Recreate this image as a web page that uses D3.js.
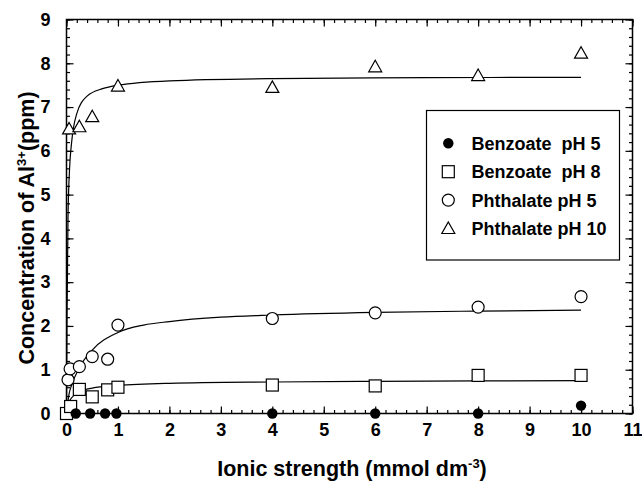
<!DOCTYPE html>
<html>
<head>
<meta charset="utf-8">
<script src="https://cdn.jsdelivr.net/npm/d3@7/dist/d3.min.js"></script>
<style>
  html, body { margin: 0; padding: 0; background: #fff; }
  svg { display: block; }
  text { font-family: "Liberation Sans", Arial, Helvetica, sans-serif; font-weight: bold; fill: #000; }
</style>
</head>
<body>
<svg id="chart" width="642" height="481"></svg>
<script>
// Al3+ concentration vs ionic strength
const benzoate5X = [0.18, 0.46, 0.75, 0.97, 4, 6, 8, 10];
const benzoate5Y = [0, 0, 0, 0, 0, 0, 0, 0.18];

const benzoate8X = [0, 0.08, 0.25, 0.5, 0.8, 1, 4, 6, 8, 10];
const benzoate8Y = [0, 0.16, 0.55, 0.38, 0.54, 0.6, 0.65, 0.63, 0.87, 0.87];

const phthalate5X = [0.03, 0.07, 0.25, 0.5, 0.8, 1, 4, 6, 8, 10];
const phthalate5Y = [0.77, 1.02, 1.07, 1.3, 1.24, 2.02, 2.17, 2.3, 2.43, 2.67];

const phthalate10X = [0.05, 0.25, 0.5, 1, 4, 6, 8, 10];
const phthalate10Y = [6.5, 6.55, 6.78, 7.48, 7.45, 7.92, 7.72, 8.23];

// fitted saturation curves
const fit8X = [0, 0.05, 0.1, 0.25, 0.5, 1, 2, 4, 6, 8, 10];
const fit8Y = [0, 0.26, 0.36, 0.5, 0.58, 0.64, 0.69, 0.72, 0.735, 0.745, 0.75];
const fit5X = [0, 0.05, 0.1, 0.25, 0.5, 1, 1.5, 2, 3, 4, 6, 8, 10];
const fit5Y = [0, 0.45, 0.65, 1.05, 1.45, 1.85, 2.02, 2.1, 2.2, 2.25, 2.31, 2.34, 2.36];
const fit10X = [0, 0.01, 0.03, 0.06, 0.1, 0.2, 0.4, 0.7, 1, 2, 4, 7, 10];
const fit10Y = [0, 2.2, 4.5, 5.6, 6.2, 6.85, 7.25, 7.42, 7.5, 7.6, 7.65, 7.67, 7.68];

const xTicks = [0, 1, 2, 3, 4, 5, 6, 7, 8, 9, 10, 11];
const yTicks = [0, 1, 2, 3, 4, 5, 6, 7, 8, 9];
const legendLabels = ["Benzoate\u00a0\u00a0pH 5", "Benzoate\u00a0\u00a0pH 8", "Phthalate pH 5", "Phthalate pH 10"];

const svg = d3.select("#chart");
const plotL = 66.5, plotR = 632.5, plotT = 19.5, plotB = 413.5;

const x = d3.scaleLinear().domain([0, 11]).range([plotL, plotR]);
const y = d3.scaleLinear().domain([0, 9]).range([plotB, plotT]);

const minorX = d3.range(0, 11.001, 0.2).map(v => +v.toFixed(1));
const minorY = d3.range(0, 9.001, 0.2).map(v => +v.toFixed(1));

function styleAxis(g) {
  g.select(".domain").remove();
  g.selectAll("line").attr("stroke", "#000").attr("stroke-width", 1.2);
  g.selectAll("text").attr("font-size", 18).attr("font-family", "Liberation Sans, Arial, sans-serif").attr("font-weight", "bold");
}

// minor ticks on all four sides
svg.append("g").attr("transform", `translate(0,${plotB})`)
  .call(d3.axisBottom(x).tickValues(minorX).tickSize(-3.5).tickFormat("")).call(styleAxis);
svg.append("g").attr("transform", `translate(0,${plotT})`)
  .call(d3.axisTop(x).tickValues(minorX).tickSize(-3.5).tickFormat("")).call(styleAxis);
svg.append("g").attr("transform", `translate(${plotL},0)`)
  .call(d3.axisLeft(y).tickValues(minorY).tickSize(-3.5).tickFormat("")).call(styleAxis);
svg.append("g").attr("transform", `translate(${plotR},0)`)
  .call(d3.axisRight(y).tickValues(minorY).tickSize(-3.5).tickFormat("")).call(styleAxis);

// major ticks with labels
svg.append("g").attr("transform", `translate(0,${plotB})`)
  .call(d3.axisBottom(x).tickValues(xTicks).tickSize(-7).tickPadding(10).tickFormat(d3.format("d"))).call(styleAxis);
svg.append("g").attr("transform", `translate(0,${plotT})`)
  .call(d3.axisTop(x).tickValues(xTicks).tickSize(-7).tickFormat("")).call(styleAxis);
svg.append("g").attr("transform", `translate(${plotL},0)`)
  .call(d3.axisLeft(y).tickValues(yTicks).tickSize(-7).tickPadding(16).tickFormat(d3.format("d"))).call(styleAxis);
svg.append("g").attr("transform", `translate(${plotR},0)`)
  .call(d3.axisRight(y).tickValues(yTicks).tickSize(-7).tickFormat("")).call(styleAxis);

// frame
svg.append("rect")
  .attr("x", plotL).attr("y", plotT)
  .attr("width", plotR - plotL).attr("height", plotB - plotT)
  .attr("fill", "none").attr("stroke", "#000").attr("stroke-width", 1.5);

// fitted curves
const line = d3.line().x(d => x(d[0])).y(d => y(d[1])).curve(d3.curveMonotoneX);
[[fit8X, fit8Y], [fit5X, fit5Y], [fit10X, fit10Y]].forEach(([xs, ys]) => {
  svg.append("path")
    .datum(xs.map((v, i) => [v, ys[i]]))
    .attr("d", line)
    .attr("fill", "none")
    .attr("stroke", "#000")
    .attr("stroke-width", 1.2);
});

// marker shapes
const shapes = {
  filled: g => g.append("circle").attr("r", 5.2).attr("fill", "#000"),
  square: g => g.append("rect").attr("x", -6).attr("y", -6).attr("width", 12).attr("height", 12)
                .attr("fill", "#fff").attr("stroke", "#000").attr("stroke-width", 1.2),
  circle: g => g.append("circle").attr("r", 6).attr("fill", "#fff").attr("stroke", "#000").attr("stroke-width", 1.2),
  triangle: g => g.append("path").attr("d", "M0,-6.5L6.5,5L-6.5,5Z")
                .attr("fill", "#fff").attr("stroke", "#000").attr("stroke-width", 1.2)
};

function drawSeries(xs, ys, kind) {
  const g = svg.append("g");
  xs.forEach((v, i) => {
    const m = g.append("g").attr("transform", `translate(${x(v)},${y(ys[i])})`);
    shapes[kind](m);
  });
}
drawSeries(benzoate8X, benzoate8Y, "square");
drawSeries(phthalate5X, phthalate5Y, "circle");
drawSeries(phthalate10X, phthalate10Y, "triangle");
drawSeries(benzoate5X, benzoate5Y, "filled");

// legend
const lg = svg.append("g");
lg.append("rect")
  .attr("x", 426.5).attr("y", 110.5).attr("width", 193).attr("height", 149.5)
  .attr("fill", "#fff").attr("stroke", "#000").attr("stroke-width", 1.2);
const kinds = ["filled", "square", "circle", "triangle"];
legendLabels.forEach((lab, i) => {
  const cy = 143.3 + i * 28.4;
  const m = lg.append("g").attr("transform", `translate(448.3,${cy})`);
  shapes[kinds[i]](m);
  lg.append("text").attr("x", 471.5).attr("y", cy).attr("dy", "0.36em")
    .attr("font-size", 18).text(lab);
});

// axis titles
const xt = svg.append("text")
  .attr("x", 352).attr("y", 476)
  .attr("text-anchor", "middle")
  .attr("font-size", 21.5);
xt.append("tspan").text("Ionic strength (mmol dm");
xt.append("tspan").attr("font-size", 13).attr("dy", -8).text("-3");
xt.append("tspan").attr("dy", 8).text(")");

const yt = svg.append("text")
  .attr("transform", "translate(34,228) rotate(-90)")
  .attr("text-anchor", "middle")
  .attr("font-size", 21.5);
yt.append("tspan").text("Concentration of Al");
yt.append("tspan").attr("font-size", 13).attr("dy", -8).text("3+");
yt.append("tspan").attr("dy", 8).text("(ppm)");
</script>
</body>
</html>
